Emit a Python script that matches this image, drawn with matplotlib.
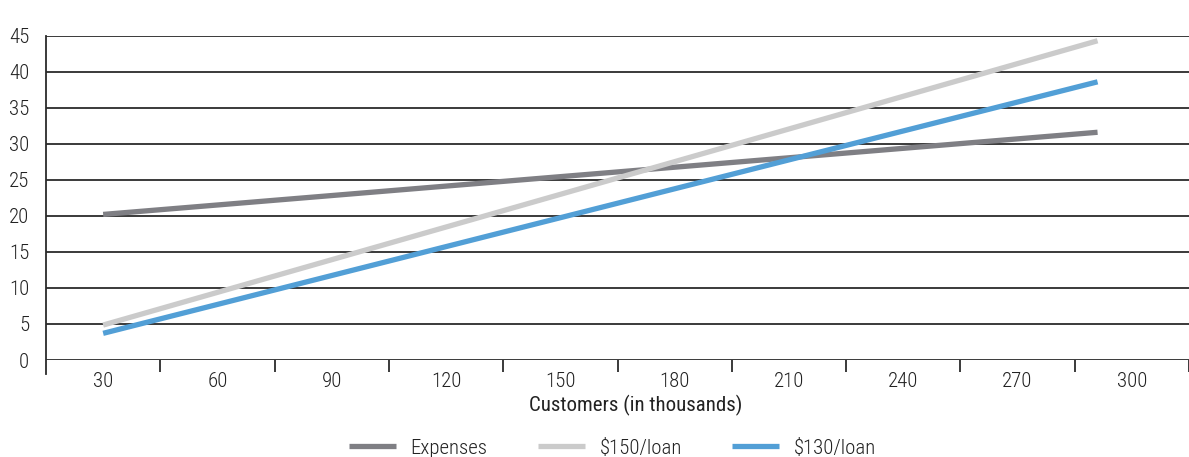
import matplotlib
matplotlib.use("Agg")
import matplotlib.pyplot as plt
from matplotlib import font_manager

categories = [30, 60, 90, 120, 150, 180, 210, 240, 270, 300]
x_line = [30, 291]
expenses = [20.2, 31.6]
loan150 = [4.85, 44.3]
loan130 = [3.7, 38.6]
y_ticks = [0, 5, 10, 15, 20, 25, 30, 35, 40, 45]

names = {f.name for f in font_manager.fontManager.ttflist}
fam = "Roboto"
for cand in ["Roboto Condensed", "Archivo Narrow", "Liberation Sans Narrow", "PT Sans Narrow",
             "Asap Condensed", "Open Sans Condensed", "Barlow Condensed"]:
    if cand in names:
        fam = cand
        break
plt.rcParams['font.family'] = [fam, 'DejaVu Sans']
plt.rcParams['font.weight'] = 'light' if fam == "Roboto Condensed" else 'normal'

FS = 15
TXT = '#222222'

fig = plt.figure(figsize=(11.89, 4.57), dpi=100)
ax = fig.add_axes([46/1189, (457-360)/457, 1 - 46/1189, (360-35.7)/457])

ax.set_xlim(15, 315)
ax.set_ylim(0, 45)

for y in y_ticks:
    ax.axhline(y, color='#2b2b2b', lw=1.3, zorder=1)

ax.plot(x_line, expenses, color='#7f7f84', lw=3.8, solid_capstyle='butt', label='Expenses', zorder=3)
ax.plot(x_line, loan150, color='#cbcbcb', lw=3.8, solid_capstyle='butt', label='$150/loan', zorder=3)
ax.plot(x_line, loan130, color='#529fd6', lw=3.8, solid_capstyle='butt', label='$130/loan', zorder=4)

for s in ['top', 'right', 'bottom']:
    ax.spines[s].set_visible(False)
ax.spines['left'].set_color('#2b2b2b')
ax.spines['left'].set_linewidth(1.3)
ax.spines['left'].set_bounds(-1.9, 45)
ax.spines['left'].set_clip_on(False)

ax.set_yticks(y_ticks)
ax.tick_params(axis='y', length=0, pad=12, labelsize=FS, labelcolor=TXT)
ax.set_xticks(categories)
ax.set_xticklabels([str(c) for c in categories])
ax.tick_params(axis='x', which='major', length=0, pad=8.5, labelsize=FS, labelcolor=TXT)
ax.set_xticks([45 + 30*i for i in range(10)], minor=True)
ax.tick_params(axis='x', which='minor', length=8.6, width=1.3, color='#2b2b2b', direction='out')

ax.set_xlabel('Customers (in thousands)', fontsize=FS, color=TXT)
ax.xaxis.set_label_coords((635.5 - 46) / 1143, -(395 - 360) / 324.3)

leg = ax.legend(loc='center', bbox_to_anchor=((612.5 - 46) / 1143, -(448 - 360) / 324.3), ncol=3,
                frameon=False, fontsize=FS, handlelength=2.26, columnspacing=2.4,
                handletextpad=0.72, labelcolor=TXT, borderpad=0)

fig.savefig('out.png', dpi=100)
